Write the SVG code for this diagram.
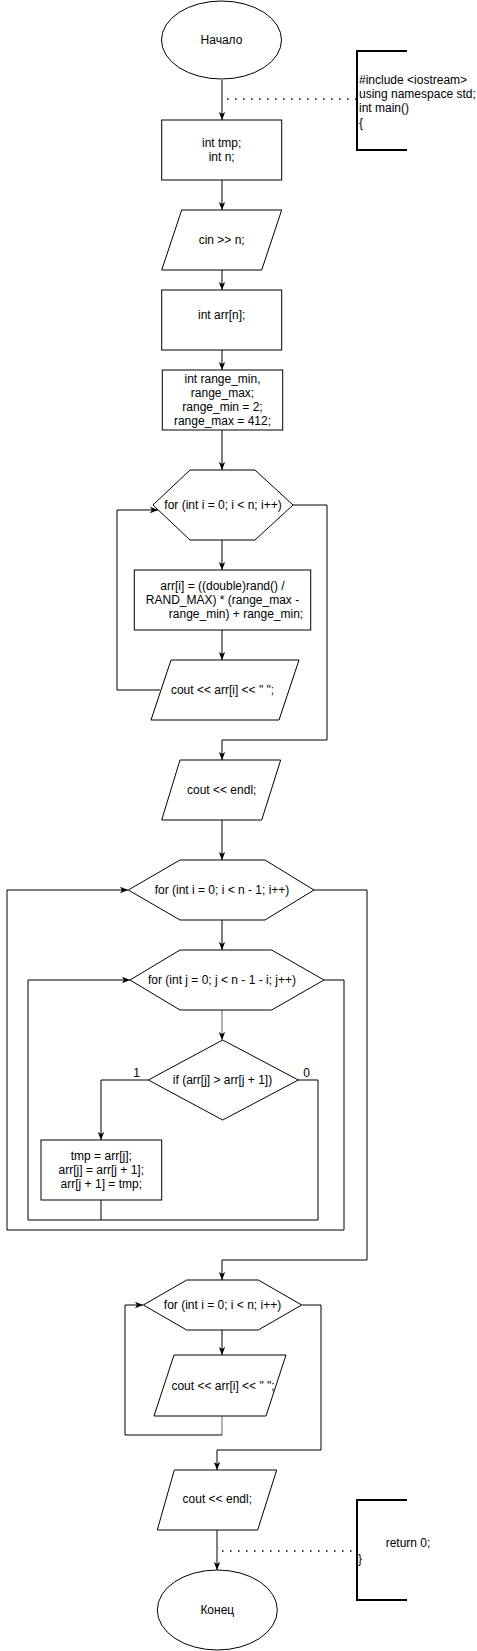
<svg xmlns="http://www.w3.org/2000/svg" width="477" height="1651" viewBox="0 0 477 1651">
<style>
.s{fill:#fff;stroke:#000;stroke-width:1}
.t{font-family:"Liberation Sans",Arial,sans-serif;font-size:12px;fill:#000;text-anchor:middle}
.l{text-anchor:start}
.c{fill:none;stroke:#000;stroke-width:1}
.g{fill:none;stroke:#666;stroke-width:1}
.d{fill:none;stroke:#000;stroke-width:1.5;stroke-dasharray:1.5 6.5}
.b{fill:none;stroke:#000;stroke-width:2}
</style>
<defs>
<marker id="a" viewBox="0 0 10 10" refX="10" refY="5" markerWidth="8" markerHeight="8" orient="auto" markerUnits="userSpaceOnUse">
<path d="M0,1 L10,5 L0,9 L2.5,5 z" fill="#000"/>
</marker>
</defs>
<g id="connectors">
<path class="c" d="M222,80 V120" marker-end="url(#a)"/>
<path class="c" d="M222,180 V210" marker-end="url(#a)"/>
<path class="c" d="M222,270 V290" marker-end="url(#a)"/>
<path class="c" d="M222,350 V370" marker-end="url(#a)"/>
<path class="c" d="M222,430 V470" marker-end="url(#a)"/>
<path class="c" d="M222,540 V570" marker-end="url(#a)"/>
<path class="c" d="M222,630 V660" marker-end="url(#a)"/>
<path class="c" d="M160,690 H117 V510 H158" marker-end="url(#a)"/>
<path class="c" d="M293,505 H327 V740 H222 V760" marker-end="url(#a)"/>
<path class="c" d="M222,820 V860" marker-end="url(#a)"/>
<path class="c" d="M222,920 V950" marker-end="url(#a)"/>
<path class="g" d="M222,1010 V1040" marker-end="url(#a)"/>
<path class="c" d="M148,1080 H101 V1140" marker-end="url(#a)"/>
<path class="c" d="M101,1200 V1220 H28 V980 H130" marker-end="url(#a)"/>
<path class="c" d="M298,1080 H318 V1220 H101"/>
<path class="c" d="M324,980 H344 V1230 H7 V890 H128" marker-end="url(#a)"/>
<path class="c" d="M314,890 H367 V1260 H222 V1280" marker-end="url(#a)"/>
<path class="c" d="M222,1330 V1355" marker-end="url(#a)"/>
<path class="g" d="M222,1416 V1435"/>
<path class="c" d="M222,1435 H125 V1305 H143" marker-end="url(#a)"/>
<path class="c" d="M302,1305 H321 V1450 H217 V1470" marker-end="url(#a)"/>
<path class="c" d="M217,1530 V1570" marker-end="url(#a)"/>
<path class="d" d="M227,99 H356"/>
<path class="d" d="M222,1551 H356"/>
</g>
<g id="start">
<ellipse class="s" cx="221.5" cy="40" rx="60" ry="39"/>
<text class="t" x="221.5" y="44">Начало</text>
</g>
<g id="note1">
<path class="b" d="M407,51 H357 V150 H407"/>
<text class="t l" x="359" y="84">#include &lt;iostream&gt;</text>
<text class="t l" x="359" y="98">using namespace std;</text>
<text class="t l" x="359" y="112">int main()</text>
<text class="t l" x="359" y="127">{</text>
</g>
<g id="decl">
<rect class="s" x="161.7" y="120" width="120" height="60"/>
<text class="t" x="221.7" y="147">int tmp;</text>
<text class="t" x="221.7" y="161">int n;</text>
</g>
<g id="cin">
<path class="s" d="M181.7,210 H281.7 L261.7,270 H161.7 Z"/>
<text class="t" x="221.7" y="244">cin &gt;&gt; n;</text>
</g>
<g id="arr">
<rect class="s" x="161.7" y="290" width="120" height="60"/>
<text class="t" x="221.7" y="319">int arr[n];</text>
</g>
<g id="range">
<rect class="s" x="162.3" y="370" width="120.4" height="60"/>
<text class="t" x="222.5" y="383">int range_min,</text>
<text class="t" x="222.5" y="397">range_max;</text>
<text class="t" x="222.5" y="411">range_min = 2;</text>
<text class="t" x="222.5" y="425">range_max = 412;</text>
</g>
<g id="for1">
<path class="s" d="M153,505 L190,470 H255 L293,505 L255,540 H190 Z"/>
<text class="t" x="223" y="509">for (int i = 0; i &lt; n; i++)</text>
</g>
<g id="rand">
<rect class="s" x="134.3" y="570" width="176.4" height="60"/>
<text class="t" x="222.5" y="590">arr[i] = ((double)rand() /</text>
<text class="t" x="222.5" y="604">RAND_MAX) * (range_max -</text>
<text class="t" x="236" y="618">range_min) + range_min;</text>
</g>
<g id="out1">
<path class="s" d="M171,660 H299 L279,720 H151 Z"/>
<text class="t" x="222.5" y="694">cout &lt;&lt; arr[i] &lt;&lt; " ";</text>
</g>
<g id="endl1">
<path class="s" d="M180,760 H280.7 L261.7,820 H161.7 Z"/>
<text class="t" x="221.7" y="794">cout &lt;&lt; endl;</text>
</g>
<g id="for2">
<path class="s" d="M128.3,890 L180,860 H265 L314,890 L265,920 H180 Z"/>
<text class="t" x="222" y="894">for (int i = 0; i &lt; n - 1; i++)</text>
</g>
<g id="for3">
<path class="s" d="M130,980 L180,950 H271.7 L324,980 L271.7,1010 H180 Z"/>
<text class="t" x="222" y="984">for (int j = 0; j &lt; n - 1 - i; j++)</text>
</g>
<g id="if">
<path class="s" d="M222.7,1040 L298.3,1080 L222.7,1120 L148.3,1080 Z"/>
<text class="t" x="222.5" y="1084">if (arr[j] &gt; arr[j + 1])</text>
<text class="t" x="136.7" y="1077">1</text>
<text class="t" x="306.7" y="1077">0</text>
</g>
<g id="swap">
<rect class="s" x="41" y="1140" width="120.7" height="60"/>
<text class="t" x="101.3" y="1160">tmp = arr[j];</text>
<text class="t" x="101.3" y="1174">arr[j] = arr[j + 1];</text>
<text class="t" x="101.3" y="1188">arr[j + 1] = tmp;</text>
</g>
<g id="for4">
<path class="s" d="M143.3,1305 L186.7,1280 H258.3 L301.7,1305 L258.3,1330 H186.7 Z"/>
<text class="t" x="222.5" y="1309">for (int i = 0; i &lt; n; i++)</text>
</g>
<g id="out2">
<path class="s" d="M174,1355 H286 L266,1416 H154 Z"/>
<text class="t" x="223" y="1390">cout &lt;&lt; arr[i] &lt;&lt; " ";</text>
</g>
<g id="endl2">
<path class="s" d="M174.3,1470 H276.7 L257.7,1530 H157.3 Z"/>
<text class="t" x="217.3" y="1503">cout &lt;&lt; endl;</text>
</g>
<g id="note2">
<path class="b" d="M407,1500 H357 V1600 H407"/>
<text class="t" x="408" y="1547">return 0;</text>
<text class="t l" x="358" y="1563">}</text>
</g>
<g id="end">
<ellipse class="s" cx="217.3" cy="1610" rx="60" ry="40"/>
<text class="t" x="217.3" y="1614">Конец</text>
</g>
</svg>
